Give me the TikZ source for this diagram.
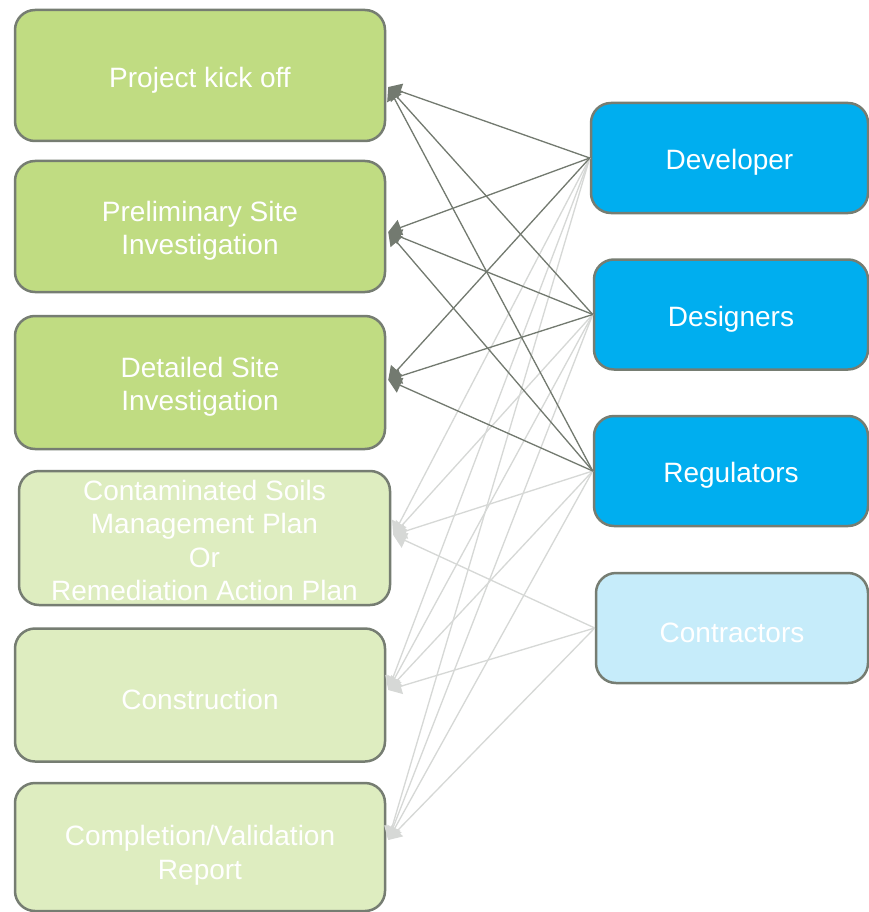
\documentclass[tikz,border=0pt]{standalone}
\usepackage{fontspec}
\setmainfont{Liberation Sans}
\usetikzlibrary{arrows.meta}
\definecolor{stagegreen}{RGB}{192,220,130}
\definecolor{stagepale}{RGB}{222,237,192}
\definecolor{partyblue}{RGB}{0,174,239}
\definecolor{partypale}{RGB}{198,236,250}
\definecolor{edgegray}{RGB}{118,125,114}
\definecolor{linkdark}{RGB}{115,122,112}
\definecolor{linklight}{RGB}{214,216,214}
\newcommand{\lift}[1][29pt]{\rule{0pt}{#1}}
\tikzset{
  box/.style={draw=edgegray,line width=2.5pt,rounded corners=20pt,text=white,
    font=\fontsize{28}{33.5}\selectfont,align=center,inner sep=0pt},
  stage/.style={box,fill=stagegreen,minimum width=370pt,minimum height=131pt},
  stagelight/.style={box,fill=stagepale,minimum width=370pt,minimum height=131pt},
  party/.style={box,fill=partyblue,minimum width=277pt,minimum height=110pt},
  partylight/.style={box,fill=partypale,minimum width=274pt,minimum height=110pt},
  linkd/.style={draw=linkdark,line width=1.3pt,-{Triangle[length=13pt,width=16pt]},fill=linkdark},
  linkl/.style={draw=linklight,line width=1.3pt,-{Triangle[length=13pt,width=16pt]},fill=linklight}
}
\begin{document}
\begin{tikzpicture}[x=1pt,y=-1pt]
\useasboundingbox[fill=white] (0,0) rectangle (868,912);
% Drawing stages
\node[stage] (kickoff) at (200,75.5) {\lift Project kick off};
\node[stage] (prelim) at (200,226.5) {\lift Preliminary Site\\Investigation};
\node[stage,minimum height=133pt] (detail) at (200,382.5) {\lift Detailed Site\\Investigation};
\node[stagelight,minimum width=371pt,minimum height=134pt] (plan) at (204.5,538) {\lift[25pt]Contaminated Soils\\Management Plan\\Or\\Remediation Action Plan};
\node[stagelight,minimum height=133pt] (build) at (200,695) {\lift Construction};
\node[stagelight,minimum height=128pt] (report) at (200,847) {\lift[37pt]Completion/Validation\\Report};
% Drawing parties
\node[party] (dev) at (729.5,158) {\lift Developer};
\node[party,minimum width=274pt] (des) at (731,314.5) {\lift Designers};
\node[party,minimum width=274pt] (reg) at (731,471) {\lift Regulators};
\node[partylight,minimum width=272pt] (ctr) at (732,628) {\lift Contractors};
% Done with boxes; drawing pale links
\draw[linkl] (dev.west) -- ([xshift=2pt,yshift=3pt]plan.east);
\draw[linkl] (dev.west) -- ([xshift=2pt,yshift=5pt]build.east);
\draw[linkl] (dev.west) -- ([xshift=2pt,yshift=7pt]report.east);
\draw[linkl] (des.west) -- ([xshift=2pt,yshift=3pt]plan.east);
\draw[linkl] (des.west) -- ([xshift=2pt,yshift=5pt]build.east);
\draw[linkl] (des.west) -- ([xshift=2pt,yshift=7pt]report.east);
\draw[linkl] (reg.west) -- ([xshift=2pt,yshift=3pt]plan.east);
\draw[linkl] (reg.west) -- ([xshift=2pt,yshift=5pt]build.east);
\draw[linkl] (reg.west) -- ([xshift=2pt,yshift=7pt]report.east);
\draw[linkl] (ctr.west) -- ([xshift=2pt,yshift=3pt]plan.east);
\draw[linkl] (ctr.west) -- ([xshift=2pt,yshift=5pt]build.east);
\draw[linkl] (ctr.west) -- ([xshift=2pt,yshift=7pt]report.east);
% Drawing dark links
\draw[linkd] (dev.west) -- ([xshift=2pt,yshift=-11.5pt]kickoff.east);
\draw[linkd] (dev.west) -- ([xshift=2pt,yshift=-5.5pt]prelim.east);
\draw[linkd] (dev.west) -- ([xshift=2pt,yshift=2.5pt]detail.east);
\draw[linkd] (des.west) -- ([xshift=2pt,yshift=-11.5pt]kickoff.east);
\draw[linkd] (des.west) -- ([xshift=2pt,yshift=-5.5pt]prelim.east);
\draw[linkd] (des.west) -- ([xshift=2pt,yshift=2.5pt]detail.east);
\draw[linkd] (reg.west) -- ([xshift=2pt,yshift=-11.5pt]kickoff.east);
\draw[linkd] (reg.west) -- ([xshift=2pt,yshift=-5.5pt]prelim.east);
\draw[linkd] (reg.west) -- ([xshift=2pt,yshift=2.5pt]detail.east);
% Done with links
\end{tikzpicture}
\end{document}
